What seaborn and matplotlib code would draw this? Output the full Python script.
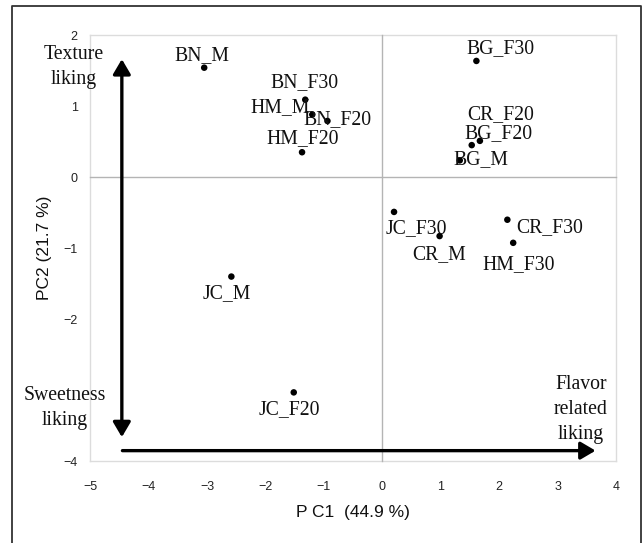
import matplotlib
matplotlib.use("Agg")
import matplotlib.pyplot as plt
import seaborn as sns
import pandas as pd
from matplotlib.patches import FancyArrowPatch
from matplotlib.lines import Line2D

# ---- data ----
samples = ["BN_M", "BN_F30", "HM_M", "BN_F20", "HM_F20",
           "BG_F30", "CR_F20", "BG_F20", "BG_M",
           "JC_F30", "CR_M", "CR_F30", "HM_F30",
           "JC_M", "JC_F20"]
pc1 = [-3.05, -1.32, -1.20, -0.94, -1.375,
       1.61, 1.67, 1.53, 1.325,
       0.20, 0.98, 2.14, 2.24,
       -2.585, -1.517]
pc2 = [1.54, 1.09, 0.88, 0.79, 0.35,
       1.635, 0.51, 0.45, 0.235,
       -0.49, -0.83, -0.60, -0.925,
       -1.40, -3.03]
# label offsets (pixels) relative to each point
label_dx = [-2, -1, -32, 10, 1, 24, 21, 27, 21, 22, 0, 42, 5, -5, -4]
label_dy = [12, 17, 7, 1, 14, 12, 26, 12, 1, -17, -19, -8, -22, -17, -17]

x_ticks = [-5, -4, -3, -2, -1, 0, 1, 2, 3, 4]
y_ticks = [-4, -3, -2, -1, 0, 1, 2]
y_tick_labels = ["−4", "", "−2", "−1", "0", "1", "2"]

df = pd.DataFrame({"PC1": pc1, "PC2": pc2, "sample": samples})

sns.set_theme(style="white")
plt.rcParams["font.family"] = ["Liberation Sans", "DejaVu Sans"]

fig = plt.figure(figsize=(6.44, 5.43), dpi=100)
W, H = 644, 543
left, right, top, bottom = 90.3, 616.0, 35.0, 461.3
ax = fig.add_axes([left / W, 1 - bottom / H, (right - left) / W, (bottom - top) / H])

sns.scatterplot(data=df, x="PC1", y="PC2", ax=ax, color="black", s=22,
                edgecolor="none", zorder=5, legend=False)

ax.set_xlim(-5, 4)
ax.set_ylim(-4, 2)
ax.set_xticks(x_ticks)
ax.set_yticks(y_ticks)
ax.set_yticklabels(y_tick_labels)
ax.tick_params(axis="both", length=0, labelsize=9, colors="#222222")
ax.tick_params(axis="x", pad=14)
ax.tick_params(axis="y", pad=9)
for sp in ax.spines.values():
    sp.set_color("#dcdcdc")
    sp.set_linewidth(1.0)

ax.set_xlabel("P C1  (44.9 %)", fontsize=12.5, color="#111111", labelpad=9)
ax.set_ylabel("PC2 (21.7 %)", fontsize=12.5, color="#111111", labelpad=8)

# overlay axes with spines through zero (ticks crossing)
ax2 = fig.add_axes(ax.get_position(), sharex=ax, sharey=ax)
ax2.patch.set_visible(False)
for k in ["top", "right"]:
    ax2.spines[k].set_visible(False)
for k in ["left", "bottom"]:
    ax2.spines[k].set_position("zero")
    ax2.spines[k].set_color("#b4b4b4")
    ax2.spines[k].set_linewidth(1.0)
ax2.tick_params(axis="both", direction="inout", length=9, width=0.8,
                color="#b4b4b4", labelleft=False, labelbottom=False)
ax2.set_xlabel("")
ax2.set_ylabel("")

serif = ["Liberation Serif", "DejaVu Serif"]
FS = 14.2
for name, x, y, dx, dy in zip(samples, pc1, pc2, label_dx, label_dy):
    ax2.annotate(name, (x, y), xytext=(dx, dy), textcoords="offset pixels",
                 ha="center", va="center", fontsize=FS, family=serif,
                 color="#111111", zorder=6)

# arrows
ax2.add_patch(FancyArrowPatch((-4.46, -3.66), (-4.46, 1.66),
                              arrowstyle="<|-|>,head_length=9,head_width=5.3",
                              lw=2.4, color="black", shrinkA=0, shrinkB=0,
                              mutation_scale=1, zorder=7, clip_on=False))
ax2.add_patch(FancyArrowPatch((-4.45, -3.85), (3.65, -3.85),
                              arrowstyle="-|>,head_length=9,head_width=5.3",
                              lw=2.4, color="black", shrinkA=0, shrinkB=0,
                              mutation_scale=1, zorder=7, clip_on=False))

ax2.text(-5.29, 1.546, "Texture\nliking", ha="center", va="center",
         fontsize=FS, family=serif, color="#111111", linespacing=1.42,
         clip_on=False, zorder=8)
ax2.text(-5.44, -3.25, "Sweetness\nliking", ha="center", va="center",
         fontsize=FS, family=serif, color="#111111", linespacing=1.42,
         clip_on=False, zorder=8)
ax2.text(3.40, -3.27, "Flavor\nrelated\nliking", ha="center", va="center",
         fontsize=FS, family=serif, color="#111111", linespacing=1.42,
         clip_on=False, zorder=8)

# outer border (left, top, right)
bx0, bx1, by = 11.5 / W, 641 / W, 1 - 6.3 / H
fig.add_artist(Line2D([bx0, bx0, bx1, bx1], [-0.02, by, by, -0.02],
                      transform=fig.transFigure, color="#333333", lw=1.3))

fig.savefig("out.png", dpi=100, facecolor="white")
